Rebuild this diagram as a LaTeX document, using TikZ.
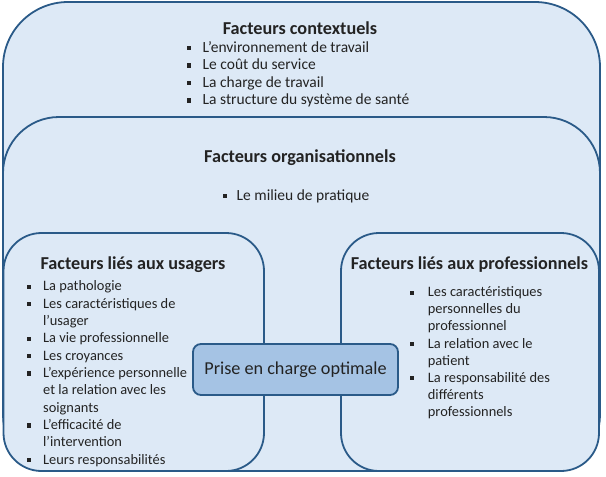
\documentclass[tikz,border=0pt]{standalone}
\usepackage{fontspec}
\setmainfont{Carlito}
\usetikzlibrary{calc}
\definecolor{edge}{HTML}{2A5A88}
\definecolor{pale}{HTML}{DDE9F6}
\definecolor{core}{HTML}{A5C3E4}
\definecolor{ink}{HTML}{232323}
\begin{document}
\begin{tikzpicture}[x=1pt,y=-1pt,
  box/.style={draw=edge,fill=pale,line width=1.8pt},
  head/.style={font=\fontsize{18.2}{21}\selectfont\bfseries,text=ink,inner sep=0pt,anchor=base},
  itemA/.style={font=\fontsize{15.5}{18}\selectfont,text=ink,inner sep=0pt,anchor=base west},
  itemB/.style={font=\fontsize{14.4}{17}\selectfont,text=ink,inner sep=0pt,anchor=base west},
  bul/.style={fill=ink}]
\useasboundingbox (0,0) rectangle (606,477);
% frames
\draw[box,rounded corners=65pt] (3,2) rectangle (600,471);
\draw[box,rounded corners=56pt] (3,117) rectangle (600,471);
\draw[box,rounded corners=38pt] (3.5,233) rectangle (264,471);
\draw[box,rounded corners=38pt] (341,233) rectangle (599,471);
% contextuels
\node[head] (hctx) at (300,34) {Facteurs contextuels};
\foreach \t [count=\i from 0] in {L’environnement de travail,Le coût du service,La charge de travail,La structure du système de santé}{
  \node[itemA] (c\i) at (202.5,{52+17.5*\i}) {\t};
  \fill[bul] ($(c\i.base west)+(-16,-2)$) rectangle ++(4.2,-4.2);
}
% organisationnels
\node[head] (horg) at (300,162) {Facteurs organisationnels};
\node[itemA] (m0) at (236.5,200) {Le milieu de pratique};
\fill[bul] ($(m0.base west)+(-14,-2)$) rectangle ++(4.2,-4.2);
% usagers
\node[head] (hus) at (133,269) {Facteurs liés aux usagers};
\foreach \b/\t [count=\i from 0] in {1/La pathologie,1/Les caractéristiques de,0/l’usager,1/La vie professionnelle,1/Les croyances,1/L’expérience personnelle,0/et la relation avec les,0/soignants,1/L’efficacité de,0/l’intervention,1/Leurs responsabilités}{
  \node[itemB] (u\i) at (43,{290.7+17.36*\i}) {\t};
  \ifnum\b=1 \fill[bul] ($(u\i.base west)+(-16,-2)$) rectangle ++(4.2,-4.2);\fi
}
% professionnels
\node[head] (hpro) at (469.5,269) {Facteurs liés aux professionnels};
\foreach \b/\t [count=\i from 0] in {1/Les caractéristiques,0/personnelles du,0/professionnel,1/La relation avec le,0/patient,1/La responsabilité des,0/différents,0/professionnels}{
  \node[itemB] (p\i) at (427.7,{296.7+17.14*\i}) {\t};
  \ifnum\b=1 \fill[bul] ($(p\i.base west)+(-18,-2)$) rectangle ++(4.2,-4.2);\fi
}
% centre
\node[draw=edge,fill=core,line width=1.8pt,rounded corners=8pt,minimum width=205pt,minimum height=51pt,inner sep=0pt,
  font=\fontsize{18.2}{21}\selectfont,text=ink] (core) at (295.5,369.5) {Prise en charge optimale};
\end{tikzpicture}
\end{document}
